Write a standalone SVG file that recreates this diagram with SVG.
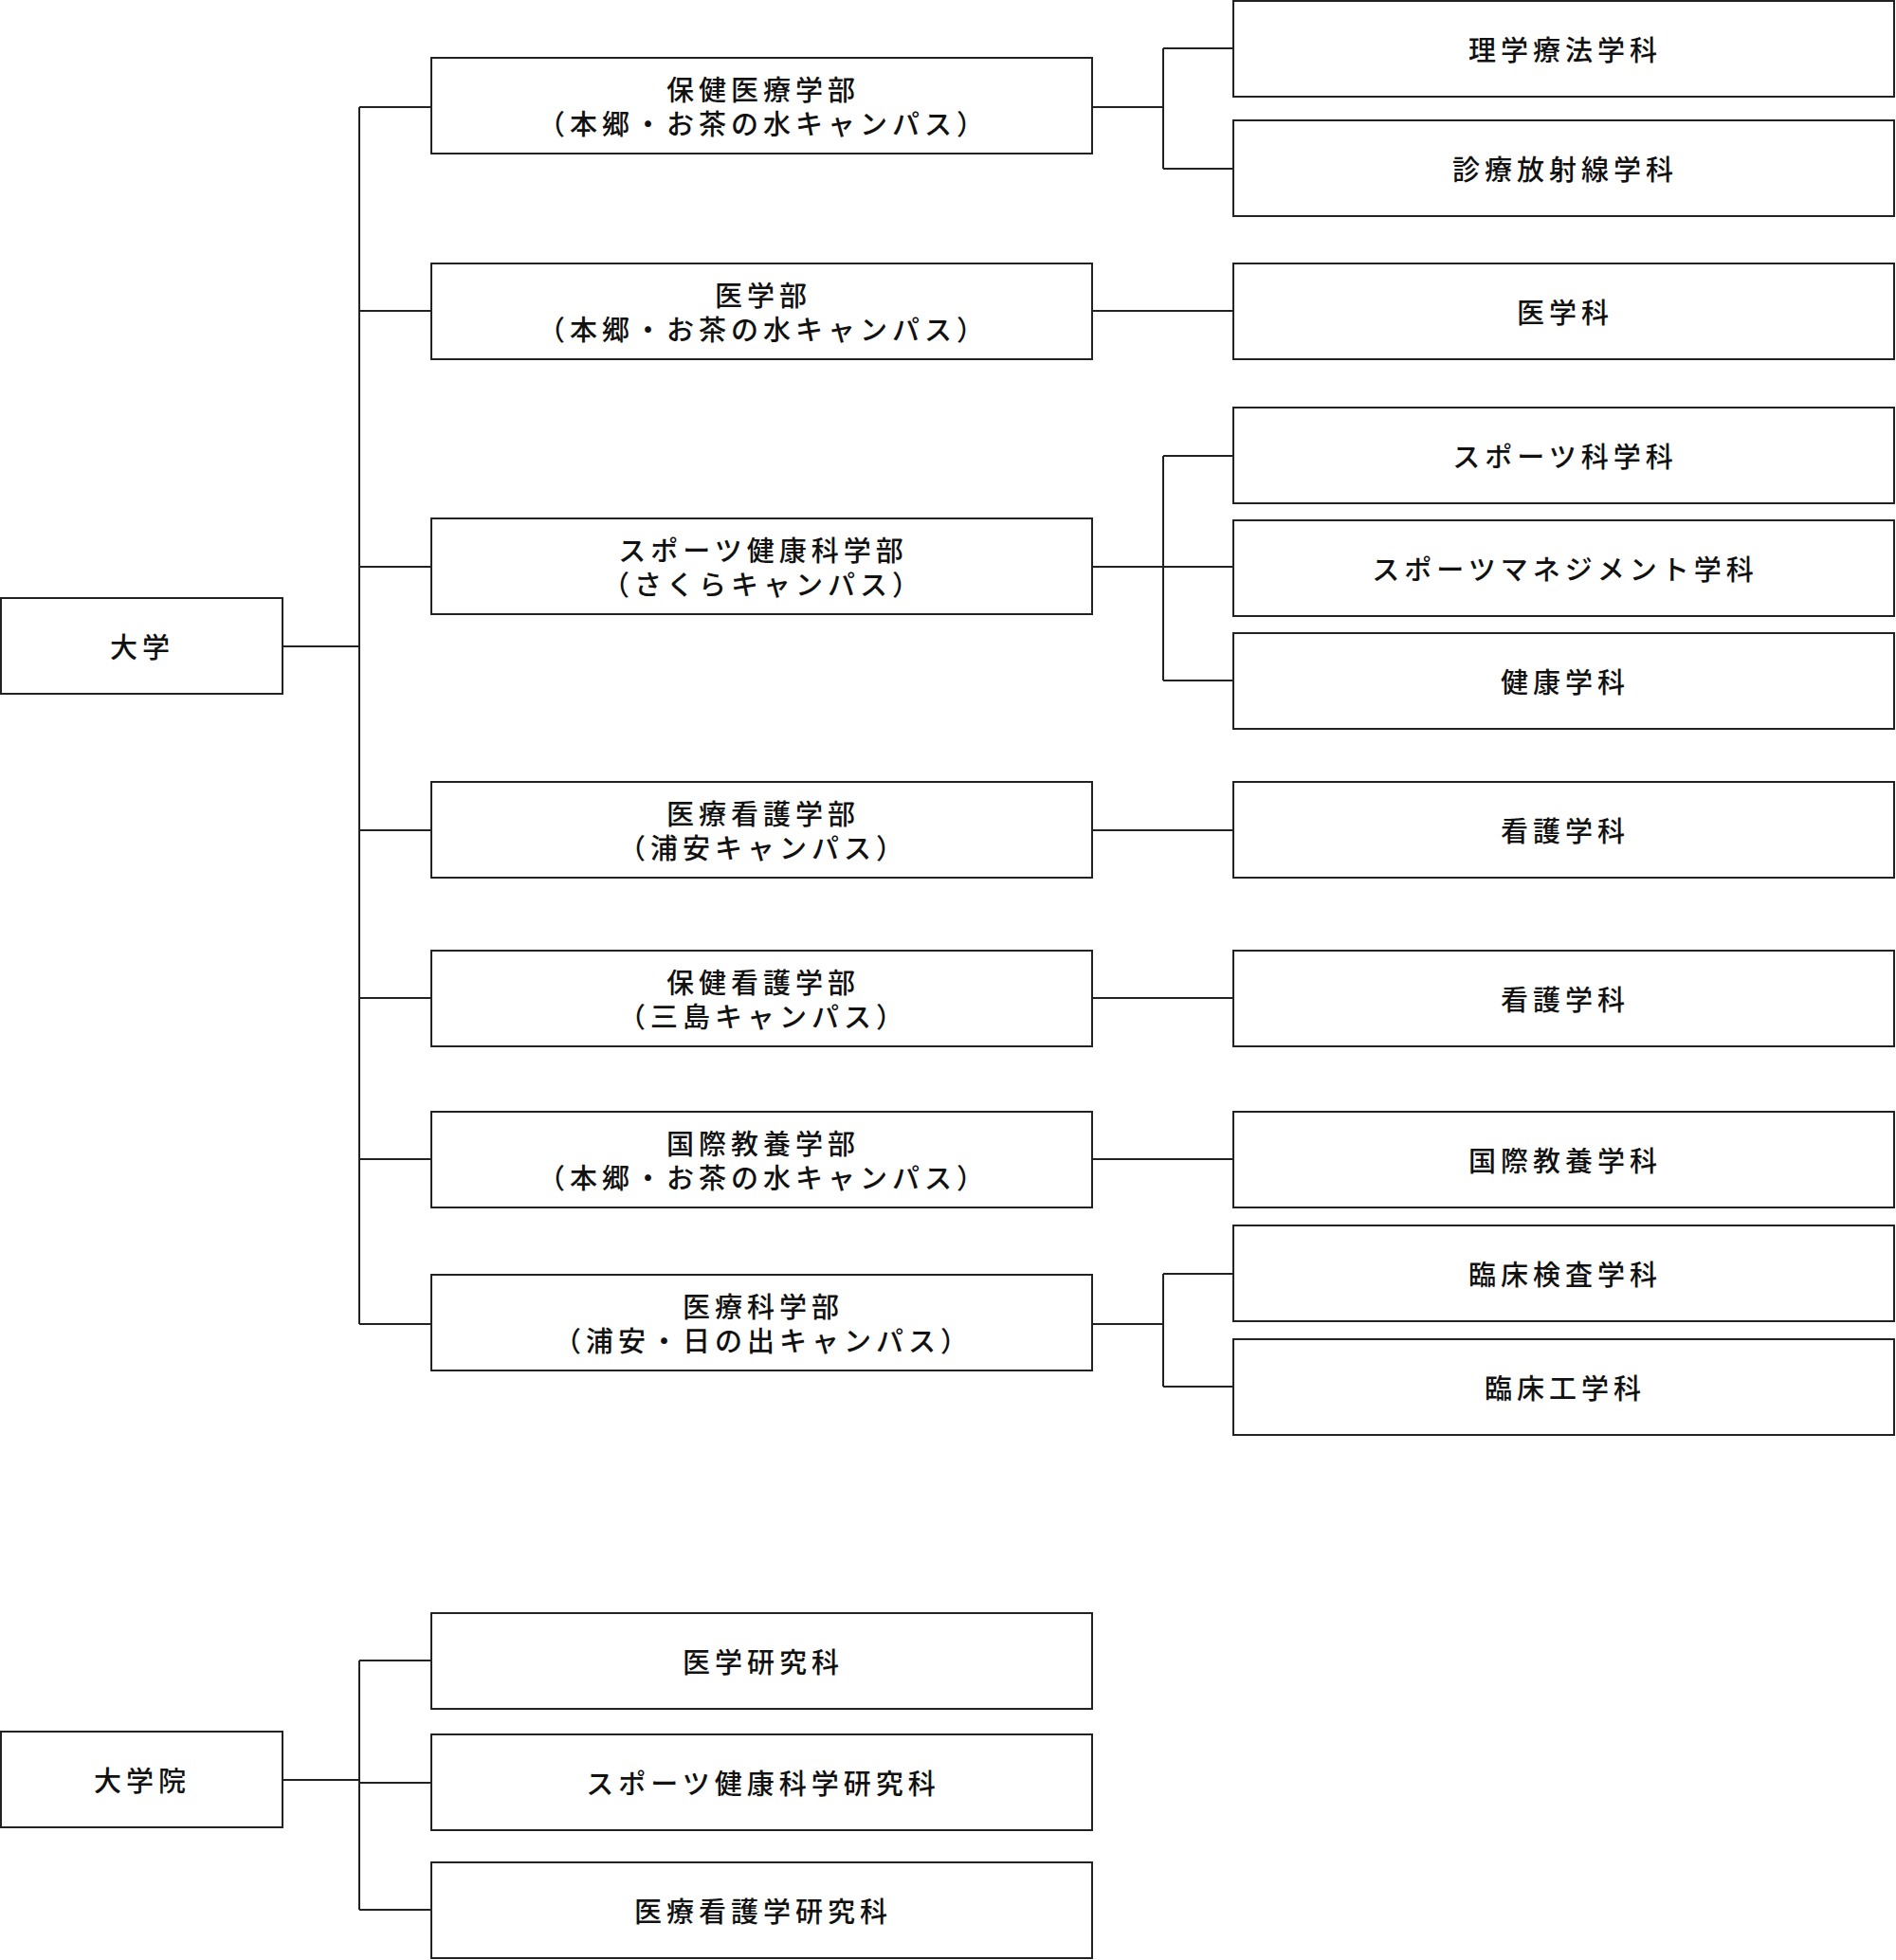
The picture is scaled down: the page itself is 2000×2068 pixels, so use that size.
<svg xmlns="http://www.w3.org/2000/svg" width="2000" height="2068" viewBox="0 0 2000 2068">
<style>
rect{fill:#fff;stroke:#222;stroke-width:2}
text{font-family:"Noto Sans CJK JP",sans-serif;font-size:29px;font-weight:500;fill:#111;text-anchor:middle;letter-spacing:5px}
.c path{fill:none;stroke:#222;stroke-width:2}
</style>
<rect width="2000" height="2068" style="stroke:none"/>
<g class="c">
<path d="M298 682H379M379 113V1397M379 113H455M379 328H455M379 598H455M379 876H455M379 1053H455M379 1223H455M379 1397H455"/>
<path d="M1152 113H1227M1227 51V178M1227 51H1301M1227 178H1301"/>
<path d="M1152 328H1301M1152 876H1301M1152 1053H1301M1152 1223H1301"/>
<path d="M1152 598H1301M1227 481V718M1227 481H1301M1227 718H1301"/>
<path d="M1152 1397H1227M1227 1344V1463M1227 1344H1301M1227 1463H1301"/>
<path d="M298 1878H379M379 1752V2015M379 1752H455M379 1881H455M379 2015H455"/>
</g>
<g id="daigaku"><rect x="1" y="631" width="297" height="101"/><text x="150" y="694">大学</text></g>
<g id="hoken-iryo"><rect x="455" y="61" width="697" height="101"/><text x="805" y="106">保健医療学部</text><text x="805" y="142">（本郷・お茶の水キャンパス）</text></g>
<g id="igakubu"><rect x="455" y="278" width="697" height="101"/><text x="805" y="323">医学部</text><text x="805" y="359">（本郷・お茶の水キャンパス）</text></g>
<g id="sports"><rect x="455" y="547" width="697" height="101"/><text x="805" y="592">スポーツ健康科学部</text><text x="805" y="628">（さくらキャンパス）</text></g>
<g id="iryo-kango"><rect x="455" y="825" width="697" height="101"/><text x="805" y="870">医療看護学部</text><text x="805" y="906">（浦安キャンパス）</text></g>
<g id="hoken-kango"><rect x="455" y="1003" width="697" height="101"/><text x="805" y="1048">保健看護学部</text><text x="805" y="1084">（三島キャンパス）</text></g>
<g id="kokusai"><rect x="455" y="1173" width="697" height="101"/><text x="805" y="1218">国際教養学部</text><text x="805" y="1254">（本郷・お茶の水キャンパス）</text></g>
<g id="iryo-kagaku"><rect x="455" y="1345" width="697" height="101"/><text x="805" y="1390">医療科学部</text><text x="805" y="1426">（浦安・日の出キャンパス）</text></g>
<g id="rigaku"><rect x="1301" y="1" width="697" height="101"/><text x="1651" y="64">理学療法学科</text></g>
<g id="shinryo"><rect x="1301" y="127" width="697" height="101"/><text x="1651" y="190">診療放射線学科</text></g>
<g id="igakka"><rect x="1301" y="278" width="697" height="101"/><text x="1651" y="341">医学科</text></g>
<g id="sports-kagaku"><rect x="1301" y="430" width="697" height="101"/><text x="1651" y="493">スポーツ科学科</text></g>
<g id="sports-mgmt"><rect x="1301" y="549" width="697" height="101"/><text x="1651" y="612">スポーツマネジメント学科</text></g>
<g id="kenko"><rect x="1301" y="668" width="697" height="101"/><text x="1651" y="731">健康学科</text></g>
<g id="kango1"><rect x="1301" y="825" width="697" height="101"/><text x="1651" y="888">看護学科</text></g>
<g id="kango2"><rect x="1301" y="1003" width="697" height="101"/><text x="1651" y="1066">看護学科</text></g>
<g id="kokusai-gakka"><rect x="1301" y="1173" width="697" height="101"/><text x="1651" y="1236">国際教養学科</text></g>
<g id="rinsho-kensa"><rect x="1301" y="1293" width="697" height="101"/><text x="1651" y="1356">臨床検査学科</text></g>
<g id="rinsho-ko"><rect x="1301" y="1413" width="697" height="101"/><text x="1651" y="1476">臨床工学科</text></g>
<g id="daigakuin"><rect x="1" y="1827" width="297" height="101"/><text x="150" y="1890">大学院</text></g>
<g id="igaku-kenkyu"><rect x="455" y="1702" width="697" height="101"/><text x="805" y="1765">医学研究科</text></g>
<g id="sports-kenkyu"><rect x="455" y="1830" width="697" height="101"/><text x="805" y="1893">スポーツ健康科学研究科</text></g>
<g id="iryo-kenkyu"><rect x="455" y="1965" width="697" height="101"/><text x="805" y="2028">医療看護学研究科</text></g>
</svg>
